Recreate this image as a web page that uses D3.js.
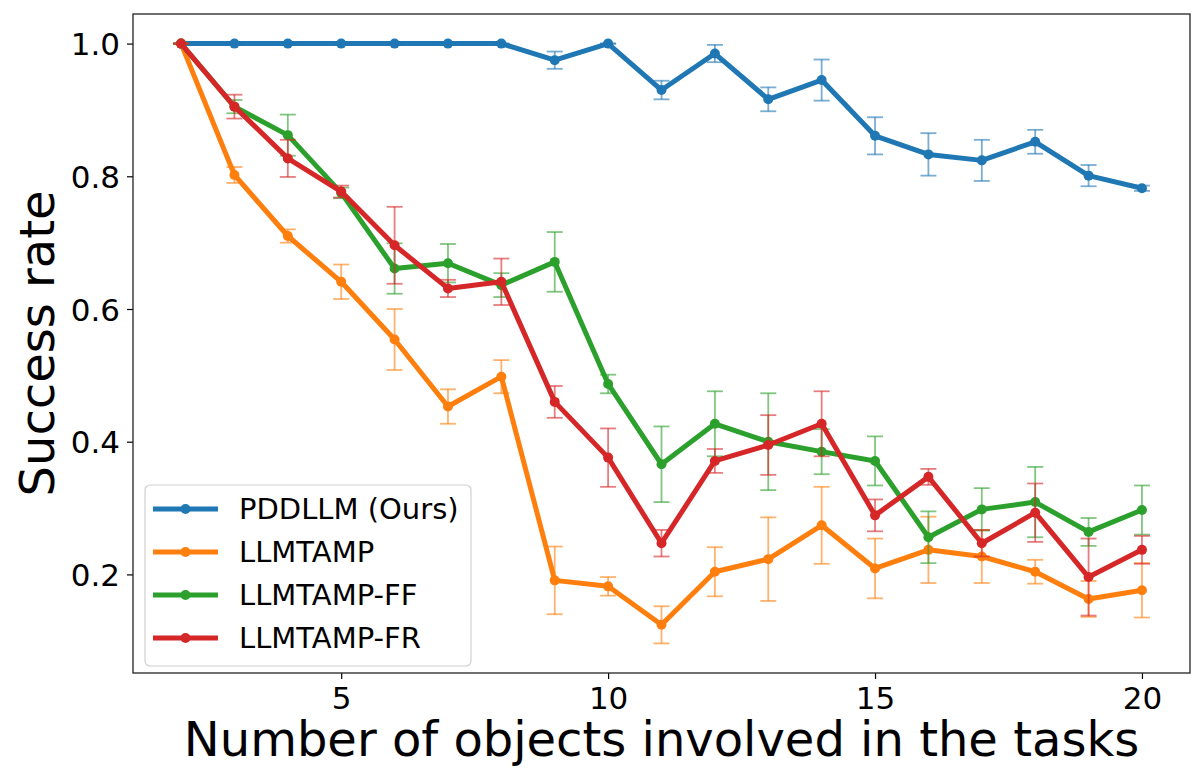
<!DOCTYPE html>
<html>
<head>
    <meta charset='utf-8'>
    <title>Success rate vs number of objects</title>
    <style type="text/css">
        body { margin: 0; background: #fff; }
        text { font-family: "DejaVu Sans", sans-serif; fill: #000; }
        .domain { display: none; }
    </style>
</head>
<body>
    <script src="https://cdn.jsdelivr.net/npm/d3@7"></script>

    <div id="svgContainer"></div>

    <script type="text/javascript">

        // number of objects in the task
        const objects = [2, 3, 4, 5, 6, 7, 8, 9, 10, 11, 12, 13, 14, 15, 16, 17, 18, 19, 20];

        const pddllm    = [1.0, 1.0, 1.0, 1.0, 1.0, 1.0, 1.0, 0.975, 1.0, 0.930, 0.985, 0.916, 0.945, 0.861, 0.833, 0.824, 0.852, 0.801, 0.782];
        const pddllmErr = [0, 0, 0, 0, 0, 0, 0, 0.013, 0, 0.014, 0.013, 0.018, 0.031, 0.028, 0.032, 0.031, 0.018, 0.016, 0.004];

        const llmtamp    = [1.0, 0.802, 0.710, 0.641, 0.554, 0.453, 0.498, 0.191, 0.182, 0.124, 0.204, 0.223, 0.274, 0.209, 0.237, 0.227, 0.204, 0.163, 0.176];
        const llmtampErr = [0, 0.012, 0.010, 0.026, 0.046, 0.026, 0.025, 0.051, 0.014, 0.028, 0.037, 0.063, 0.058, 0.045, 0.050, 0.040, 0.018, 0.027, 0.041];

        const llmtampFF    = [1.0, 0.905, 0.862, 0.775, 0.661, 0.669, 0.636, 0.671, 0.487, 0.366, 0.427, 0.400, 0.385, 0.371, 0.256, 0.298, 0.309, 0.264, 0.297];
        const llmtampFFErr = [0, 0.010, 0.031, 0.008, 0.038, 0.029, 0.018, 0.045, 0.014, 0.057, 0.049, 0.073, 0.034, 0.037, 0.039, 0.032, 0.053, 0.021, 0.037];

        const llmtampFR    = [1.0, 0.905, 0.827, 0.777, 0.696, 0.631, 0.641, 0.460, 0.376, 0.247, 0.371, 0.395, 0.427, 0.289, 0.347, 0.247, 0.293, 0.196, 0.237];
        const llmtampFRErr = [0, 0.018, 0.028, 0.009, 0.058, 0.013, 0.035, 0.024, 0.044, 0.020, 0.018, 0.045, 0.049, 0.024, 0.012, 0.020, 0.044, 0.058, 0.021];

        const seriesNames = ["PDDLLM (Ours)", "LLMTAMP", "LLMTAMP-FF", "LLMTAMP-FR"];
        const colors = ["#1f77b4", "#ff7f0e", "#2ca02c", "#d62728"];
        const xTicks = [5, 10, 15, 20];
        const yTicks = [0.2, 0.4, 0.6, 0.8, 1.0];

        const series = [
            { name: seriesNames[0], values: pddllm, errs: pddllmErr, color: colors[0] },
            { name: seriesNames[1], values: llmtamp, errs: llmtampErr, color: colors[1] },
            { name: seriesNames[2], values: llmtampFF, errs: llmtampFFErr, color: colors[2] },
            { name: seriesNames[3], values: llmtampFR, errs: llmtampFRErr, color: colors[3] }
        ];

        const width = 1191;
        const height = 769;
        const plot = { left: 133, right: 1190, top: 14, bottom: 673 };

        const svg = d3.select("#svgContainer").append("svg")
            .attr("width", width)
            .attr("height", height);

        svg.append("rect")
            .attr("width", width)
            .attr("height", height)
            .attr("fill", "#fff");

        const x = d3.scaleLinear()
            .domain([1.1, 20.9])
            .range([plot.left, plot.right]);

        const y = d3.scaleLinear()
            .domain([0.0514, 1.0446])
            .range([plot.bottom, plot.top]);

        // axes
        const xAxis = svg.append("g")
            .attr("transform", `translate(0,${plot.bottom})`)
            .call(d3.axisBottom(x).tickValues(xTicks).tickSize(6).tickPadding(6).tickFormat(d3.format("d")));
        xAxis.selectAll("text").attr("font-size", 31).attr("dy", "0.76em");
        xAxis.selectAll("line").attr("stroke", "#000").attr("stroke-width", 1.2);

        const yAxis = svg.append("g")
            .attr("transform", `translate(${plot.left},0)`)
            .call(d3.axisLeft(y).tickValues(yTicks).tickSize(6).tickPadding(7).tickFormat(d3.format(".1f")));
        yAxis.selectAll("text").attr("font-size", 31).attr("dy", "0.36em");
        yAxis.selectAll("line").attr("stroke", "#000").attr("stroke-width", 1.2);

        // series: line + markers, then error bars
        const line = d3.line()
            .x((d, i) => x(objects[i]))
            .y(d => y(d));

        const capHalf = 8;

        series.forEach(s => {
            const g = svg.append("g");

            g.append("path")
                .datum(s.values)
                .attr("fill", "none")
                .attr("stroke", s.color)
                .attr("stroke-width", 5)
                .attr("stroke-linejoin", "round")
                .attr("d", line);

            g.selectAll("circle")
                .data(s.values)
                .join("circle")
                .attr("cx", (d, i) => x(objects[i]))
                .attr("cy", d => y(d))
                .attr("r", 5)
                .attr("fill", s.color);

            const eb = g.append("g")
                .attr("stroke", s.color)
                .attr("stroke-opacity", 0.6)
                .attr("stroke-width", 1.8);

            s.values.forEach((v, i) => {
                const cx = x(objects[i]);
                const lo = y(v - s.errs[i]);
                const hi = y(v + s.errs[i]);
                eb.append("line").attr("x1", cx).attr("x2", cx).attr("y1", lo).attr("y2", hi);
                eb.append("line").attr("x1", cx - capHalf).attr("x2", cx + capHalf).attr("y1", lo).attr("y2", lo);
                eb.append("line").attr("x1", cx - capHalf).attr("x2", cx + capHalf).attr("y1", hi).attr("y2", hi);
            });
        });

        // frame
        svg.append("rect")
            .attr("x", plot.left)
            .attr("y", plot.top)
            .attr("width", plot.right - plot.left)
            .attr("height", plot.bottom - plot.top)
            .attr("fill", "none")
            .attr("stroke", "#222")
            .attr("stroke-width", 1.3);

        // axis labels
        svg.append("text")
            .attr("x", (plot.left + plot.right) / 2)
            .attr("y", 756)
            .attr("text-anchor", "middle")
            .attr("font-size", 48)
            .text("Number of objects involved in the tasks");

        svg.append("text")
            .attr("transform", `translate(54,${(plot.top + plot.bottom) / 2}) rotate(-90)`)
            .attr("text-anchor", "middle")
            .attr("font-size", 48)
            .text("Success rate");

        // legend
        const legend = svg.append("g");
        legend.append("rect")
            .attr("x", 145)
            .attr("y", 485)
            .attr("width", 326)
            .attr("height", 181)
            .attr("rx", 5)
            .attr("fill", "#fff")
            .attr("fill-opacity", 0.8)
            .attr("stroke", "#d0d0d0")
            .attr("stroke-width", 1.2);

        const item = legend.selectAll("g.item")
            .data(series)
            .join("g")
            .attr("class", "item")
            .attr("transform", (d, i) => `translate(0,${509 + i * 43})`);

        item.append("line")
            .attr("x1", 153)
            .attr("x2", 218)
            .attr("stroke", d => d.color)
            .attr("stroke-width", 5);

        item.append("circle")
            .attr("cx", 185.5)
            .attr("r", 5)
            .attr("fill", d => d.color);

        item.append("text")
            .attr("x", 239)
            .attr("dy", "0.36em")
            .attr("font-size", 29)
            .text(d => d.name);

    </script>
</body>
</html>
